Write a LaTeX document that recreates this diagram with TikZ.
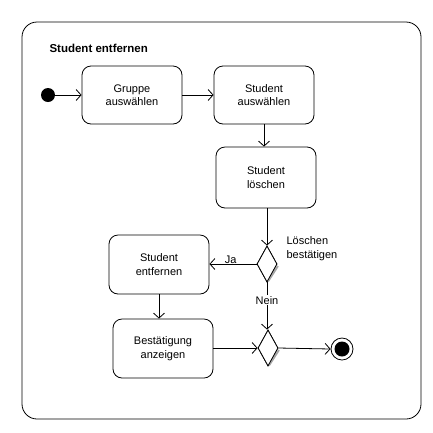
\documentclass[tikz,border=0pt]{standalone}
\usepackage{fontspec}
\setmainfont{Liberation Sans}
\usetikzlibrary{arrows.meta,shapes.geometric}
\begin{document}
\begin{tikzpicture}[x=1pt,y=-1pt,
  act/.style={draw,line width=0.8pt,rounded corners=9pt,minimum width=100pt,align=center,font=\fontsize{11}{13.5}\selectfont},
  dec/.style={draw,line width=0.8pt,diamond,aspect=0.55,inner sep=0pt,minimum width=20pt,minimum height=36pt},
  flow/.style={line width=0.8pt,-{Straight Barb[length=5pt,width=11pt]}},
  lbl/.style={font=\fontsize{11}{13.5}\selectfont,align=left}]
\useasboundingbox (0,0) rectangle (433,432);
\draw[line width=0.8pt,rounded corners=15pt] (22,22) rectangle (421,419);
\node[anchor=west,font=\bfseries\fontsize{11.5}{13}\selectfont] (title) at (46,48) {Student entfernen};
\node[circle,fill=black,minimum size=14pt,inner sep=0pt] (init) at (48,95) {};
\node[act,minimum height=58pt] (b1) at (132,95) {Gruppe\\auswählen};
\node[act,minimum height=58pt] (b2) at (264,95) {Student\\auswählen};
\node[act,minimum height=61pt] (b3) at (266,177.5) {Student\\löschen};
\node[dec] (d1) at (267,264) {};
\node[act,minimum height=59pt] (b4) at (159,264.5) {Student\\entfernen};
\node[act,minimum height=59pt] (b5) at (163,348.5) {Bestätigung\\anzeigen};
\node[dec] (d2) at (268,348) {};
\node[circle,draw,line width=0.8pt,minimum size=22pt,inner sep=0pt] (fin) at (342,349) {};
\node[circle,fill=black,minimum size=15pt,inner sep=0pt] (finin) at (fin) {};
% shadows
\draw[gray!70,line width=2pt] ([xshift=0.5pt,yshift=-2pt]d1.east) -- ([xshift=1pt,yshift=1pt]d1.south);
\draw[gray!70,line width=2pt] ([xshift=0.5pt,yshift=-2pt]d2.east) -- ([xshift=1pt,yshift=1pt]d2.south);
\node[dec,fill=white] at (d1) {};
\node[dec,fill=white] at (d2) {};
\node[lbl,anchor=north west] (l1) at (283,233) {Löschen\\bestätigen};
\draw[flow] (init) -- (b1);
\draw[flow] (b1) -- (b2);
\draw[flow] (b2.south) -- (b2.south |- b3.north);
\draw[flow] (b3.south -| d1.north) -- (d1.north);
\draw[flow] (d1.west) -- (d1.west -| b4.east) node[lbl,pos=0.55,above=-3pt] (ja) {Ja};
\draw[flow] (d1.south) -- (d1.south |- d2.north) node[lbl,pos=0.38,fill=white,inner sep=1pt] (nein) {Nein};
\draw[flow] (b4.south) -- (b4.south |- b5.north);
\draw[flow] (b5.east |- d2.west) -- (d2.west);
\draw[flow] (d2.east) -- (fin.west);
\end{tikzpicture}
\end{document}
